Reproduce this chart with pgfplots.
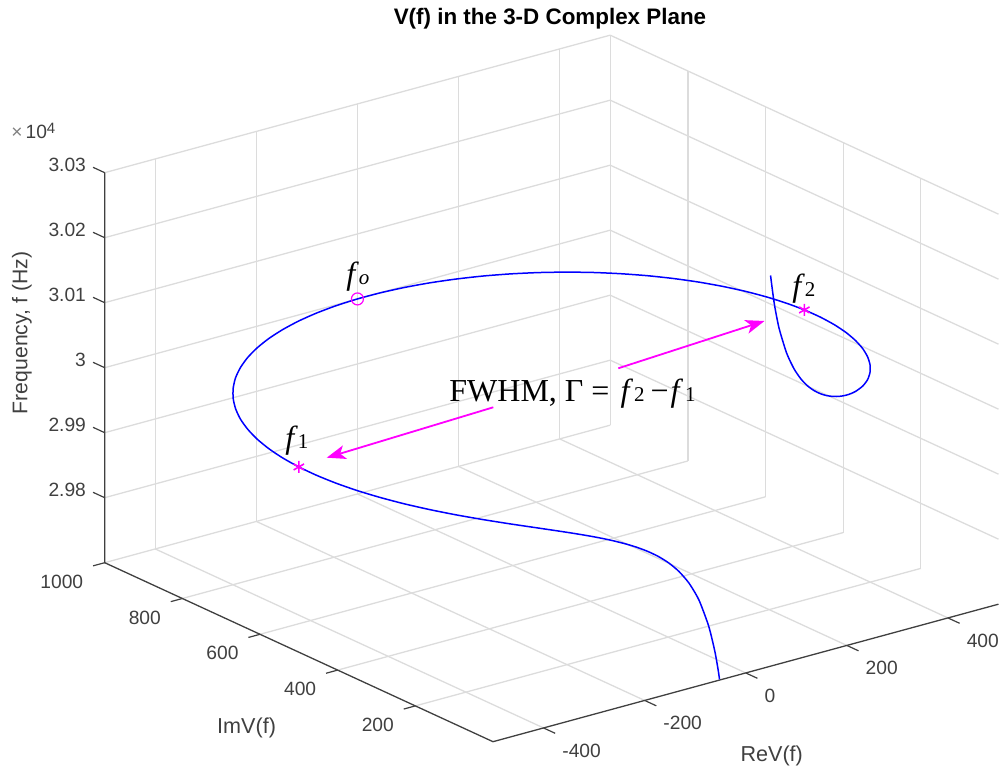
\documentclass[border=0pt]{standalone}
\usepackage{fontspec}
\setmainfont{Liberation Sans}
\newfontfamily\timesf{Liberation Serif}
\usepackage{pgfplots}
\pgfplotsset{compat=1.18}
\usetikzlibrary{arrows.meta}
\definecolor{axc}{HTML}{404040}
\definecolor{grc}{HTML}{DCDCDC}
\definecolor{mag}{rgb}{1,0,1}
\begin{document}
\begin{tikzpicture}
\begin{axis}[
  x={(0.25275pt,0.06875pt)},
  y={(-0.19415pt,0.0895pt)},
  z={(0pt,0.325pt)},
  xmin=-500,xmax=500,ymin=0,ymax=1000,zmin=29700,zmax=30300,
  clip=false,
  axis line style={draw=none},
  grid=major,
  major grid style={draw=grc,line width=0.65pt},
  tick align=outside,
  major tick length=6.5pt,
  tick style={draw=none},
  unbounded coords=jump,
  xtick={-400,-200,0,200,400},
  xticklabels={-400,-200,0,200,400},
  ytick={200,400,600,800,1000},
  yticklabels={200,400,600,800,1000},
  ztick={29800,29900,30000,30100,30200,30300},
  zticklabels={2.98,2.99,3,3.01,3.02,3.03},
  scaled x ticks=false,scaled y ticks=false,scaled z ticks=false,
  tick label style={font=\fontsize{9.6}{11}\selectfont,text=axc,inner sep=0pt,outer sep=0pt},
  xticklabel style={anchor=west,xshift=3.5pt,yshift=-8.7pt},
  yticklabel style={anchor=east,xshift=-4.5pt,yshift=-7.75pt},
  zticklabel style={anchor=east,xshift=-3.5pt,yshift=1.2pt},
  xlabel={ReV(f)},
  ylabel={ImV(f)},
  zlabel={Frequency, f (Hz)},
  label style={font=\fontsize{10.8}{12}\selectfont,text=axc,inner sep=0pt,outer sep=0pt},
  xlabel style={at={(rel axis cs:0,0,0)},anchor=center,xshift=139.35pt,yshift=-7pt,rotate=0,sloped=false},
  ylabel style={at={(rel axis cs:0,0,0)},anchor=center,xshift=-123.2pt,yshift=7pt,rotate=0,sloped=false},
  every axis z label/.style={at={(rel axis cs:0,0,0)},anchor=center,xshift=-235.5pt,yshift=204.35pt,rotate=90,font=\fontsize{10.6}{12}\selectfont,text=axc},
  title={\textbf{V(f) in the 3-D Complex Plane}},
  title style={font=\fontsize{11.2}{13}\selectfont,at={(rel axis cs:0,0,0)},anchor=center,xshift=28.5pt,yshift=355.35pt,inner sep=0pt},
]
\addplot3[no marks,color=axc,line width=0.65pt,forget plot] coordinates {(-500,1000,30300) (-500,1000,29700) (-500,0,29700) (500,0,29700)};
\addplot3[no marks,color=axc,line width=0.6pt,forget plot] coordinates {
(-400,0,29700) (-400,-30,29700) (0,0,nan)
(-200,0,29700) (-200,-30,29700) (0,0,nan)
(0,0,29700) (0,-30,29700) (0,0,nan)
(200,0,29700) (200,-30,29700) (0,0,nan)
(400,0,29700) (400,-30,29700) (0,0,nan)
(-500,200,29700) (-523,200,29700) (0,0,nan)
(-500,400,29700) (-523,400,29700) (0,0,nan)
(-500,600,29700) (-523,600,29700) (0,0,nan)
(-500,800,29700) (-523,800,29700) (0,0,nan)
(-500,1000,29700) (-523,1000,29700) (0,0,nan)
(-500,1000,29800) (-500,1030,29800) (0,0,nan)
(-500,1000,29900) (-500,1030,29900) (0,0,nan)
(-500,1000,30000) (-500,1030,30000) (0,0,nan)
(-500,1000,30100) (-500,1030,30100) (0,0,nan)
(-500,1000,30200) (-500,1030,30200) (0,0,nan)
(-500,1000,30300) (-500,1030,30300)};
\addplot3[smooth,tension=0.4,no marks,color=blue,line width=0.75pt,line join=round] coordinates {
(-50,2.5,29700) (-52.3,2.7,29714) (-58.6,3.4,29745) (-69.6,4.9,29785.49) (-86.8,7.6,29828.55) (-104.0,10.9,29857.28)
(-121,14.9,29877.83) (-137.8,19.4,29893.27) (-154.5,24.5,29905.29) (-171.0,30.2,29914.93) (-187.3,36.4,29922.83) (-203.4,43.2,29929.43) (-219.2,50.6,29935.03) (-234.7,58.5,29939.84) (-250,67.0,29944.02) (-265,76,29947.69)
(-286.8,90.4,29952.43) (-321.4,117.0,29958.79) (-353.6,146.4,29963.79) (-383.0,178.6,29967.83)
(-409.6,213.2,29971.19) (-433.0,250,29974.02) (-453.2,288.7,29976.45) (-469.8,329.0,29978.58)
(-483,370.6,29980.45) (-492.4,413.2,29982.12) (-498.1,456.4,29983.63) (-500,500,29985)
(-498.1,543.6,29986.26) (-492.4,586.8,29987.41) (-483,629.4,29988.49) (-469.8,671.0,29989.50)
(-453.2,711.3,29990.44) (-433,750,29991.34) (-409.6,786.8,29992.19) (-383,821.4,29993.01)
(-353.6,853.6,29993.79) (-321.4,883,29994.54) (-286.8,909.6,29995.27) (-250,933,29995.98)
(-211.3,953.2,29996.67) (-171,969.8,29997.36) (-129.4,983,29998.03) (-86.8,992.4,29998.69)
(-43.6,998.1,29999.35) (0,1000,30000)
(43.6,998.1,30000.65) (86.8,992.4,30001.31) (129.4,983,30001.97) (171,969.8,30002.64)
(211.3,953.2,30003.33) (250,933,30004.02) (286.8,909.6,30004.73) (321.4,883,30005.46)
(353.6,853.6,30006.21) (383,821.4,30006.99) (409.6,786.8,30007.81) (433,750,30008.66)
(453.2,711.3,30009.56) (469.8,671.0,30010.50) (483,629.4,30011.51) (492.4,586.8,30012.59)
(498.1,543.6,30013.74) (500,500,30015) (498.1,456.4,30016.37) (492.4,413.2,30017.88)
(483,370.6,30019.55) (469.8,329.0,30021.42) (453.2,288.7,30023.55) (433.0,250,30025.98)
(409.6,213.2,30028.81) (383.0,178.6,30032.17) (353.6,146.4,30036.21) (321.4,117.0,30041.21)
(286.8,90.4,30047.57) (265,76,30052.31) (250,67.0,30055.98) (234.7,58.5,30060.16) (219.2,50.6,30064.97) (203.4,43.2,30070.57)
(187.3,36.4,30077.17) (171.0,30.2,30085.07) (154.5,24.5,30094.71) (137.8,19.4,30106.73) (121,14.9,30122.17) (104.0,10.9,30142.72) (86.8,7.6,30171.45)
(69.6,4.9,30214.51) (59,3.4,30255) (51,2.5,30300)};
\addplot3[only marks,mark=o,mark size=3pt,color=mag,mark options={line width=0.6pt}] coordinates {(0,1000,30000)};
\addplot3[only marks,mark=asterisk,mark size=3pt,color=mag,mark options={line width=0.8pt}] coordinates {(-500,500,29985) (500,500,30015)};
\coordinate (F) at (rel axis cs:0,0,0);
\end{axis}
\pgfresetboundingbox
\begin{scope}[shift={(F)},x=0.5pt,y=-0.5pt,shift={(-493,-741.7)}]
\path[use as bounding box] (0,0) rectangle (1000,769);
\node[anchor=west,inner sep=0pt,text=axc,font=\fontsize{9.6}{11}\selectfont] at (11,131) {\textcolor{gray}{×}\kern1.5pt 10\raisebox{0.55ex}{\fontsize{7.5}{9}\selectfont 4}};
\draw[mag,line width=0.9pt,-{Stealth[length=9.5pt,width=7pt,inset=2.5pt]}] (493.3,407.3) -- (326.7,457.7);
\draw[mag,line width=0.9pt,-{Stealth[length=9.5pt,width=7pt,inset=2.5pt]}] (618.3,368.3) -- (764.5,321);
\newcommand{\bigf}{\fontsize{16}{19}\selectfont}
\newcommand{\smf}{\fontsize{10.5}{12}\selectfont}
\node[anchor=base west,inner sep=0pt,font=\timesf] at (449,402) {\bigf FWHM, Γ =\kern5.5pt \textit{f}\kern0.5pt{\smf 2}\kern3pt−\kern1pt\textit{f}\kern1pt{\smf 1}};
\node[anchor=base west,inner sep=0pt,font=\timesf] at (346,285) {\bigf\textit{f}{\smf\textit{o}}};
\node[anchor=base west,inner sep=0pt,font=\timesf] at (285,449) {\bigf\textit{f}{\smf 1}};
\node[anchor=base west,inner sep=0pt,font=\timesf] at (792,297) {\bigf\textit{f}{\smf 2}};
\end{scope}
\end{tikzpicture}
\end{document}
